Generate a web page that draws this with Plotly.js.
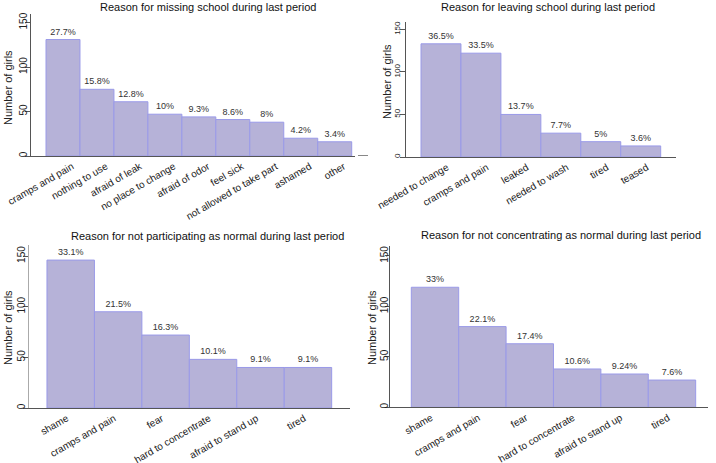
<!DOCTYPE html>
<html>
<head>
<meta charset="utf-8">
<script src="https://cdn.plot.ly/plotly-3.0.1.min.js"></script>
<style>html,body{margin:0;padding:0;background:#fff;}#chart{width:716px;height:463px;}</style>
</head>
<body>
<div id="chart"></div>
<script>
// Data
const cats1 = ["cramps and pain","nothing to use","afraid of leak","no place to change","afraid of odor","feel sick","not allowed to take part","ashamed","other"];
const vals1 = [131,75,61,47,44,41,38,20,16];
const pct1 = ["27.7%","15.8%","12.8%","10%","9.3%","8.6%","8%","4.2%","3.4%"];

const cats2 = ["needed to change","cramps and pain","leaked","needed to wash","tired","teased"];
const vals2 = [133,122,50,28,18,13];
const pct2 = ["36.5%","33.5%","13.7%","7.7%","5%","3.6%"];

const cats3 = ["shame","cramps and pain","fear","hard to concentrate","afraid to stand up","tired"];
const vals3 = [146,95,72,48,40,40];
const pct3 = ["33.1%","21.5%","16.3%","10.1%","9.1%","9.1%"];

const cats4 = ["shame","cramps and pain","fear","hard to concentrate","afraid to stand up","tired"];
const vals4 = [119,80,63,38,33,27];
const pct4 = ["33%","22.1%","17.4%","10.6%","9.24%","7.6%"];

const titles = [
  "Reason for missing school during last period",
  "Reason for leaving school during last period",
  "Reason for not participating as normal during last period",
  "Reason for not concentrating as normal during last period"
];
const yTitle = "Number of girls";
const yTicks = [0,50,100,150];

// Layout helpers (pixel geometry)
const W = 716, H = 463;
const fx = p => p / W;
const fy = p => 1 - p / H;

const panels = [
  {cats:cats1, vals:vals1, pct:pct1, xd:[31,355], yd:[14,156], xr:[-0.942,8.597], yr:[0,159.7], tickSize:10, tickLen:5, yStand:-6, xShift:9, title:[208,7], ytitle:[8,88]},
  {cats:cats2, vals:vals2, pct:pct2, xd:[405.7,676], yd:[21.7,157], xr:[-0.883,5.883], yr:[0,159], tickSize:8, tickLen:5, yStand:-3, xShift:6, title:[548,7], ytitle:[387,82]},
  {cats:cats3, vals:vals3, pct:pct3, xd:[29,350], yd:[245,408], xr:[-0.879,5.886], yr:[0,160.9], tickSize:10, tickLen:5, yStand:-6, xShift:-4, title:[207.5,236], ytitle:[8,328]},
  {cats:cats4, vals:vals4, pct:pct4, xd:[390.3,708], yd:[246,407.3], xr:[-0.943,5.76], yr:[0,159.9], tickSize:10, tickLen:4, yStand:-7, xShift:-4, title:[561,235], ytitle:[372,327]}
];

const font = "Liberation Sans, Arial, sans-serif";
const data = [];
const layout = {
  width: W, height: H,
  margin: {l:0, r:0, t:0, b:0},
  paper_bgcolor: "#fff", plot_bgcolor: "rgba(0,0,0,0)",
  showlegend: false,
  font: {family: font, color: "#222"},
  annotations: [],
  shapes: [
    {type: "line", xref: "paper", yref: "paper", x0: fx(358), x1: fx(368), y0: fy(155.5), y1: fy(155.5), line: {color: "#888", width: 1}}
  ],
  bargap: 0
};

panels.forEach((p, i) => {
  const n = i + 1;
  const xa = n === 1 ? "xaxis" : "xaxis" + n;
  const ya = n === 1 ? "yaxis" : "yaxis" + n;
  data.push({
    type: "bar",
    x: p.cats, y: p.vals,
    xaxis: "x" + (n === 1 ? "" : n), yaxis: "y" + (n === 1 ? "" : n),
    width: 1,
    marker: {color: "#b6b2d8", line: {color: "#9a9ae8", width: 1}},
    text: p.pct, textposition: "outside", textangle: 0,
    constraintext: "none", cliponaxis: false,
    textfont: {size: 9, color: "#333", family: font},
    hoverinfo: "none"
  });
  layout[xa] = {
    domain: [fx(p.xd[0]), fx(p.xd[1])],
    range: p.xr, type: "category",
    showline: true, linecolor: "#555", linewidth: 1,
    ticks: "", showgrid: false, zeroline: false,
    tickangle: -30, ticklabelshift: p.xShift,
    tickfont: {size: 10, color: "#222", family: font},
    anchor: "y" + (n === 1 ? "" : n), fixedrange: true
  };
  layout[ya] = {
    domain: [fy(p.yd[1]), fy(p.yd[0])],
    range: p.yr,
    tickvals: yTicks, ticktext: yTicks.map(String),
    showline: true, linecolor: (n === 3 ? "#aaa" : "#555"), linewidth: 1,
    ticks: "outside", ticklen: p.tickLen, tickcolor: "#555",
    ticklabelstandoff: p.yStand,
    showgrid: false, zeroline: false,
    tickangle: -90, tickfont: {size: p.tickSize, color: "#222", family: font},
    anchor: "x" + (n === 1 ? "" : n), fixedrange: true
  };
  layout.annotations.push({
    text: titles[i], xref: "paper", yref: "paper",
    x: fx(p.title[0]), y: fy(p.title[1]), xanchor: "center", yanchor: "middle",
    showarrow: false, font: {size: 11, color: "#111", family: font}
  });
  layout.annotations.push({
    text: yTitle, xref: "paper", yref: "paper",
    x: fx(p.ytitle[0]), y: fy(p.ytitle[1]), xanchor: "center", yanchor: "middle",
    textangle: -90, showarrow: false, font: {size: 11, color: "#222", family: font}
  });
});

Plotly.newPlot("chart", data, layout, {staticPlot: true, displayModeBar: false});
</script>
</body>
</html>
